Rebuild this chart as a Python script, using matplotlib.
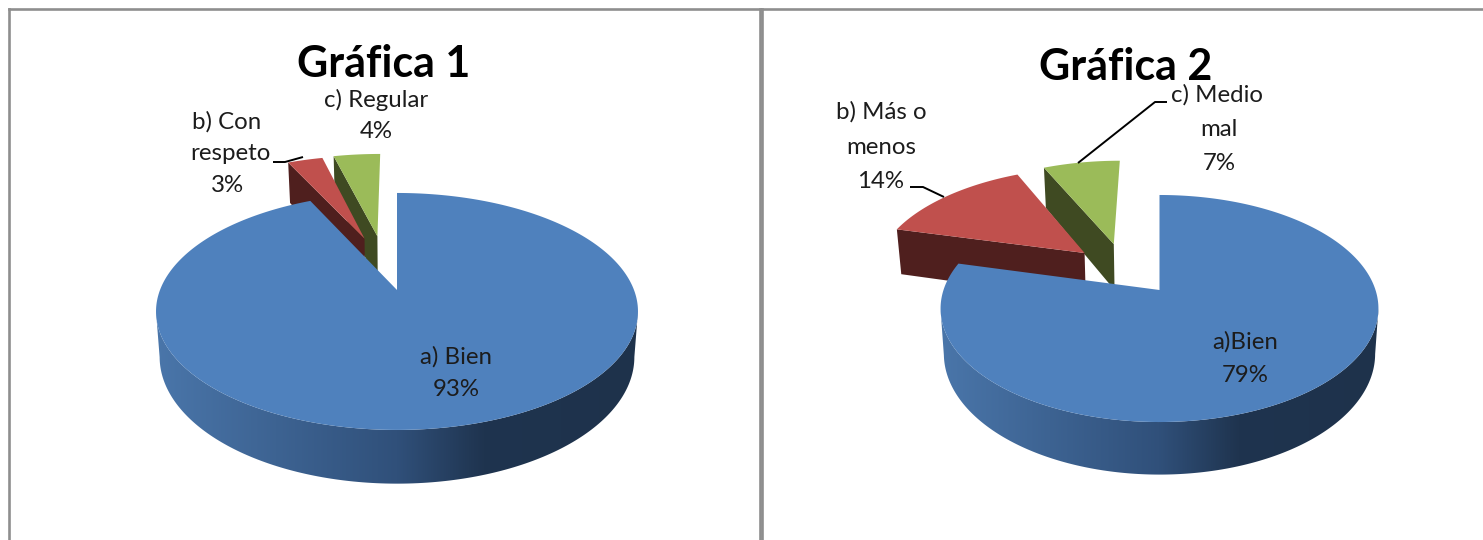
import numpy as np
import matplotlib
matplotlib.use("Agg")
import matplotlib.pyplot as plt
from matplotlib.colors import LinearSegmentedColormap
from matplotlib.patches import Polygon

plt.rcParams['font.family'] = ['Lato', 'DejaVu Sans']

# --- data ---
values_1 = [93, 3, 4]
labels_1 = [["a) Bien", "93%"], ["b) Con", "respeto", "3%"], ["c) Regular", "4%"]]
values_2 = [79, 14, 7]
labels_2 = [["a)Bien", "79%"], ["b) Más o", "menos", "14%"], ["c) Medio", "mal", "7%"]]
titles = ["Gráfica 1", "Gráfica 2"]

# --- styling ---
W, H = 1483, 540
TOPS = ["#4f81bd", "#c0504d", "#9bbb59"]
FACES = ["#1f344f", "#4f1f1e", "#3f4a22"]
WALL = LinearSegmentedColormap.from_list(
    "wall", [(0, "#4a76aa"), (0.5, "#30507a"), (0.68, "#1f344f"), (1, "#1e324b")])
BORDER = "#8e8e8e"
TEXT = "#1c1c1c"


def project(g, x, y, z=0.0):
    """Perspective projection of a ground point onto figure pixels."""
    d = 1 + g["k"] * y
    taper = 1 - 0.015 * z
    return (g["cx"] + g["a"] * x / d * taper,
            g["cy"] - g["b"] * y / d + z * g["h"] / d)


def pie3d(ax, values, g):
    fracs = np.array(values, float) / sum(values)
    starts = np.concatenate([[0], np.cumsum(fracs)[:-1]]) * 360
    ends = starts + fracs * 360
    # far slices first, the large front slice last
    for i in [2, 1, 0]:
        ex = g["explode"][i]
        base = 2 + (2 - i) * 3
        ox = ex[0] * np.sin(np.radians(ex[1]))
        oy = ex[0] * np.cos(np.radians(ex[1]))
        t = np.radians(np.linspace(starts[i], ends[i], 361))
        xs, ys = ox + np.sin(t), oy + np.cos(t)
        # radial face at the start edge of the pulled-out slices
        if ex[0] > 0:
            z = g["face_depth"]
            p = [project(g, ox, oy), project(g, xs[0], ys[0]),
                 project(g, xs[0], ys[0], z), project(g, ox, oy, z)]
            ax.add_patch(Polygon(p, closed=True, fc=FACES[i], ec="none", zorder=base))
        # outer wall between the two silhouette points, shaded left to right
        front = np.cos(t) < -g["k"]
        if front.any():
            upper = [project(g, a, b) for a, b in zip(xs[front], ys[front])]
            lower = [project(g, a, b, 1) for a, b in zip(xs[front], ys[front])]
            wall = Polygon(upper + lower[::-1], closed=True, fc="none", ec="none",
                           transform=ax.transData)
            ax.add_patch(wall)
            left = g["cx"] - g["a"] * 1.02
            right = g["cx"] + g["a"] * 1.02
            im = ax.imshow(np.linspace(0, 1, 512)[None, :], cmap=WALL, vmin=0, vmax=1,
                           extent=(left, right, g["cy"] + 210, g["cy"]),
                           aspect="auto", zorder=base, interpolation="bilinear")
            im.set_clip_path(wall)
        # top face
        pts = [project(g, ox, oy)] + [project(g, a, b) for a, b in zip(xs, ys)]
        ax.add_patch(Polygon(pts, closed=True, fc=TOPS[i], ec="none", zorder=base + 1))


def panel(rect, values, labels, title, g):
    l, t, r = rect
    ax = fig.add_axes([l / W, 0, (r - l) / W, 1 - t / H])
    pie3d(ax, values, g)
    ax.set_xlim(l, r)
    ax.set_ylim(H, t)
    ax.set_aspect("auto")
    ax.set_xticks([])
    ax.set_yticks([])
    ax.spines["bottom"].set_visible(False)
    for s in ("left", "top", "right"):
        ax.spines[s].set_color(BORDER)
        ax.spines[s].set_linewidth(1.9)
    ax.text(g["title"][0], g["title"][1], title, ha="center", va="center",
            fontsize=31, fontweight="bold", color="black", zorder=30)
    for lab, pos in zip(labels, g["label_pos"]):
        for line, (x, y) in zip(lab, pos):
            ax.text(x, y, line, ha="center", va="center", fontsize=17.3,
                    color=TEXT, zorder=30)
    for xs, ys in g["leaders"]:
        ax.plot(xs, ys, color="black", lw=1.4, zorder=25, solid_capstyle="butt")
    return ax


fig = plt.figure(figsize=(W / 100, H / 100), dpi=100, facecolor="white")

g1 = dict(cx=397, cy=290, a=237, b=114.6, k=0.181, h=44, face_depth=1.15,
          explode=[(0, 0), (0.51, 343), (0.52, 350)],
          title=(384, 64),
          label_pos=[[(456, 357), (456, 389)],
                     [(227, 122), (230, 154), (227, 186)],
                     [(376, 100), (376, 132)]],
          leaders=[([273, 285, 303], [162, 162, 157])])
g2 = dict(cx=1159.5, cy=290, a=216, b=110.5, k=0.163, h=44, face_depth=1.12,
          explode=[(0, 0), (0.51, 314), (0.5, 333)],
          title=(1126, 67),
          label_pos=[[(1245, 342), (1245, 376)],
                     [(881, 112), (881, 147), (881, 182)],
                     [(1217, 95), (1219, 129), (1219, 164)]],
          leaders=[([1167, 1155, 1078], [102, 102, 163]),
                   ([910, 923, 944], [187, 187, 197])])

panel((8.5, 8.5, 759.5), values_1, labels_1, titles[0], g1)
panel((762, 8.5, W + 3), values_2, labels_2, titles[1], g2)

fig.savefig("out.png", dpi=100, facecolor="white")
